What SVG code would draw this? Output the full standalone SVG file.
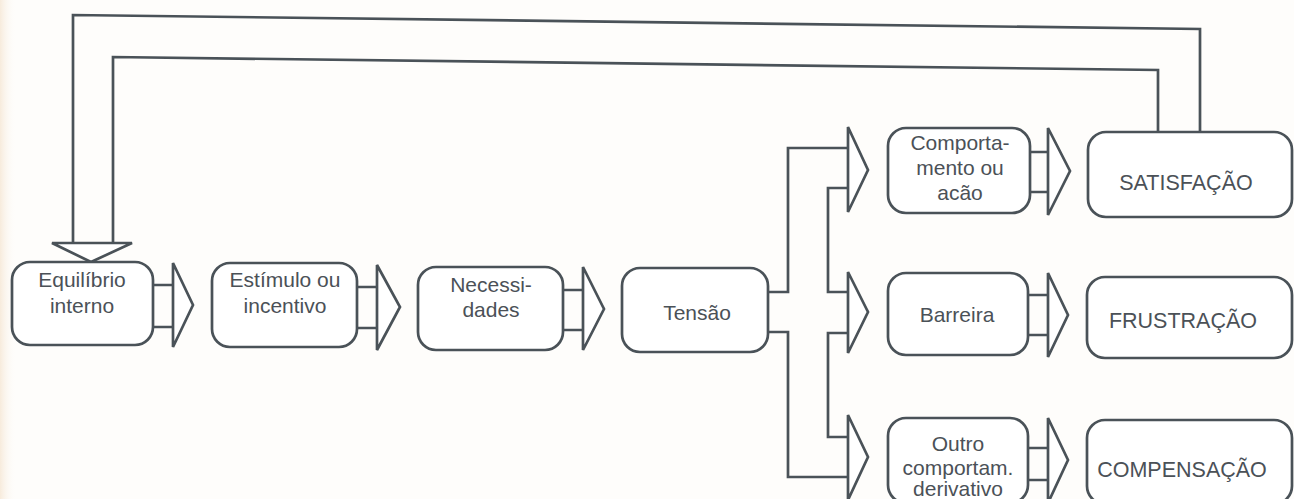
<svg xmlns="http://www.w3.org/2000/svg" width="1294" height="499" viewBox="0 0 1294 499">
  <defs>
    <linearGradient id="paperEdge" x1="0" y1="0" x2="1" y2="0">
      <stop offset="0" stop-color="#f7ebdc"/>
      <stop offset="1" stop-color="#fefdfb" stop-opacity="0"/>
    </linearGradient>
    <style>
      .box { fill: #ffffff; stroke: #4a5258; stroke-width: 2.7; }
      .wire { fill: none; stroke: #4a5258; stroke-width: 2.7; stroke-linejoin: miter; }
      .head { fill: #ffffff; stroke: #4a5258; stroke-width: 2.7; stroke-linejoin: miter; }
      .lbl { font-family: "Liberation Sans", Arial, sans-serif; font-size: 21px; fill: #4b5157; text-anchor: middle; }
      .big { font-size: 21.5px; }
    </style>
  </defs>

  <!-- paper -->
  <rect x="0" y="0" width="1294" height="499" fill="#fefdfb"/>
  <rect x="0" y="0" width="16" height="499" fill="url(#paperEdge)"/>

  <!-- connectors -->
  <g id="connectors">
    <!-- feedback loop back to the start -->
    <path class="wire" d="M1200,132 L1200,29 L73,15 L73,243"/>
    <path class="wire" d="M1158,132 L1158,70 L113,57 L113,243"/>
    <polygon class="head" points="52,243 132,243 91,262"/>

    <!-- Equilíbrio → Estímulo -->
    <path class="wire" d="M153,285 H173 M153,327 H173"/>
    <polygon class="head" points="173,263 193,305 173,347"/>

    <!-- Estímulo → Necessidades -->
    <path class="wire" d="M357,287 H377 M357,328 H377"/>
    <polygon class="head" points="377,265 400,307 377,350"/>

    <!-- Necessidades → Tensão -->
    <path class="wire" d="M563,290 H583 M563,330 H583"/>
    <polygon class="head" points="583,267 604,309 583,350"/>

    <!-- Tensão branches into three -->
    <path class="wire" d="M768,292 H788 V148 H848"/>
    <path class="wire" d="M768,332 H788 V477 H848"/>
    <path class="wire" d="M848,188 H828 V292 H848"/>
    <path class="wire" d="M848,333 H828 V437 H848"/>
    <polygon class="head" points="848,127 868,170 848,212"/>
    <polygon class="head" points="848,272 868,312 848,353"/>
    <polygon class="head" points="848,415 868,457 848,500"/>

    <!-- second column → results -->
    <path class="wire" d="M1030,152 H1048 M1030,192 H1048"/>
    <polygon class="head" points="1048,128 1070,171 1048,215"/>
    <path class="wire" d="M1028,295 H1048 M1028,335 H1048"/>
    <polygon class="head" points="1048,273 1068,315 1048,357"/>
    <path class="wire" d="M1028,448 H1048 M1028,480 H1048"/>
    <polygon class="head" points="1048,418 1068,460 1048,503"/>
  </g>

  <g id="equilibrio">
    <rect class="box" x="12" y="262" width="141" height="83" rx="18"/>
    <text class="lbl" x="82" y="287">Equilíbrio</text>
    <text class="lbl" x="82" y="313">interno</text>
  </g>

  <g id="estimulo">
    <rect class="box" x="212" y="263" width="145" height="84" rx="18"/>
    <text class="lbl" x="285" y="287">Estímulo ou</text>
    <text class="lbl" x="285" y="313">incentivo</text>
  </g>

  <g id="necessidades">
    <rect class="box" x="418" y="267" width="145" height="83" rx="18"/>
    <text class="lbl" x="491" y="292">Necessi-</text>
    <text class="lbl" x="491" y="317">dades</text>
  </g>

  <g id="tensao">
    <rect class="box" x="622" y="268" width="146" height="84" rx="18"/>
    <text class="lbl" x="697" y="320">Tensão</text>
  </g>

  <g id="comportamento">
    <rect class="box" x="888" y="128" width="142" height="85" rx="18"/>
    <text class="lbl" x="960" y="150">Comporta-</text>
    <text class="lbl" x="960" y="175">mento ou</text>
    <text class="lbl" x="960" y="200">acão</text>
  </g>

  <g id="barreira">
    <rect class="box" x="888" y="273" width="140" height="82" rx="18"/>
    <text class="lbl" x="957" y="322">Barreira</text>
  </g>

  <g id="outro">
    <rect class="box" x="888" y="418" width="140" height="85" rx="18"/>
    <text class="lbl" x="958" y="451">Outro</text>
    <text class="lbl" x="958" y="475">comportam.</text>
    <text class="lbl" x="958" y="496">derivativo</text>
  </g>

  <g id="satisfacao">
    <rect class="box" x="1088" y="132" width="204" height="85" rx="18"/>
    <text class="lbl big" x="1186" y="190">SATISFAÇÃO</text>
  </g>

  <g id="frustracao">
    <rect class="box" x="1087" y="277" width="205" height="81" rx="18"/>
    <text class="lbl big" x="1183" y="328">FRUSTRAÇÃO</text>
  </g>

  <g id="compensacao">
    <rect class="box" x="1087" y="420" width="205" height="84" rx="18"/>
    <text class="lbl big" x="1182" y="477">COMPENSAÇÃO</text>
  </g>
</svg>
